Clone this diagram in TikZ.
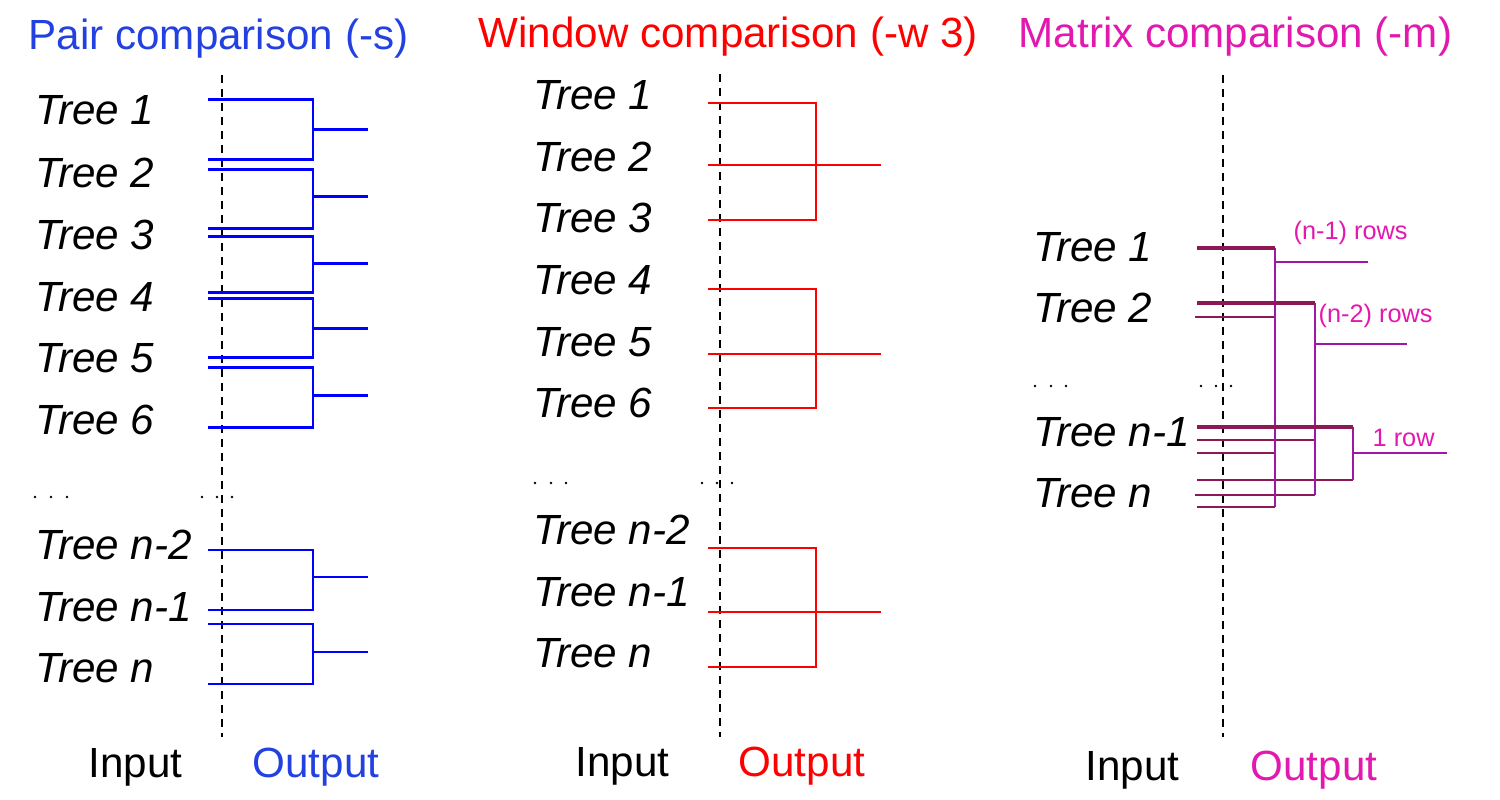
\documentclass[tikz,border=0pt]{standalone}
\usepackage{fontspec}
\setmainfont{Liberation Sans}
\usetikzlibrary{positioning}

\definecolor{pairblue}{RGB}{0,0,255}
\definecolor{pairtext}{RGB}{35,65,225}
\definecolor{winred}{RGB}{255,0,0}
\definecolor{matpink}{RGB}{225,25,175}
\definecolor{matpurple}{RGB}{155,25,165}
\definecolor{matmaroon}{RGB}{140,25,85}

\begin{document}
\begin{tikzpicture}[x=0.1mm, y=-0.1mm, line join=miter,
        tree/.style={anchor=base west, inner sep=0pt, font=\fontsize{12}{14}\selectfont\itshape},
        heading/.style={anchor=base west, inner sep=0pt, font=\fontsize{12}{14}\selectfont},
        rowlabel/.style={anchor=base west, inner sep=0pt, text=matpink, font=\fontsize{7.2}{8}\selectfont},
        divider/.style={line width=0.7pt, dash pattern=on 0.8mm off 0.6mm},
        pairline/.style={pairblue, line width=0.85pt},
        winline/.style={winred, line width=0.75pt},
        feedthick/.style={matmaroon, line width=1.3pt},
        feedthin/.style={matmaroon, line width=0.75pt},
        joinline/.style={matpurple, line width=0.8pt}]
    \useasboundingbox (0,0) rectangle (1500,800);

    % pair comparison
    \node[heading, text=pairtext] (pairtitle) at (28,50) {Pair comparison (-s)};
    \node[tree] (pt1) at (35,125) {Tree 1};
    \node[tree] (pt2) at (35,188) {Tree 2};
    \node[tree] (pt3) at (35,250) {Tree 3};
    \node[tree] (pt4) at (35,312) {Tree 4};
    \node[tree] (pt5) at (35,373) {Tree 5};
    \node[tree] (pt6) at (35,435) {Tree 6};
    \node[tree] (ptn2) at (35,560) {Tree n-2};
    \node[tree] (ptn1) at (35,622) {Tree n-1};
    \node[tree] (ptn) at (35,683) {Tree n};
    \node[heading] (pairin) at (88,778) {Input};
    \node[heading, text=pairtext] (pairout) at (252,778) {Output};
    \draw[divider] (222,75) -- (222,737);
    \foreach \x in {35,51,67,202,217,232}
        \fill (\x,497) circle (1.3);
    \foreach \t/\b/\m in {100/160/130, 170/229/197, 237/293/264, 299/358/329,
                          368/428/396, 550/610/577, 624/684/652}
        \draw[pairline] (208,\t) -| (313,\b) -- (208,\b) (313,\m) -- (368,\m);

    % window comparison
    \node[heading, text=winred] (wintitle) at (478,48) {Window comparison (-w 3)};
    \node[tree] (wt1) at (533,110) {Tree 1};
    \node[tree] (wt2) at (533,172) {Tree 2};
    \node[tree] (wt3) at (533,233) {Tree 3};
    \node[tree] (wt4) at (533,295) {Tree 4};
    \node[tree] (wt5) at (533,357) {Tree 5};
    \node[tree] (wt6) at (533,418) {Tree 6};
    \node[tree] (wtn2) at (533,545) {Tree n-2};
    \node[tree] (wtn1) at (533,607) {Tree n-1};
    \node[tree] (wtn) at (533,668) {Tree n};
    \node[heading] (winin) at (575,777) {Input};
    \node[heading, text=winred] (winout) at (738,777) {Output};
    \draw[divider] (720,74) -- (720,737);
    \foreach \x in {535,551,566,702,717,732}
        \fill (\x,483) circle (1.3);
    \foreach \t/\m/\b in {103/165/220, 289/354/408, 548/612/667}
        \draw[winline] (708,\t) -| (816,\b) -- (708,\b) (708,\m) -- (881,\m);

    % matrix comparison
    \node[heading, text=matpink] (mattitle) at (1018,48) {Matrix comparison (-m)};
    \node[tree] (mt1) at (1033,262) {Tree 1};
    \node[tree] (mt2) at (1033,323) {Tree 2};
    \node[tree] (mtn1) at (1033,447) {Tree n-1};
    \node[tree] (mtn) at (1033,508) {Tree n};
    \node[heading] (matin) at (1085,780) {Input};
    \node[heading, text=matpink] (matout) at (1250,780) {Output};
    \draw[divider] (1223,75) -- (1223,737);
    \foreach \x in {1035,1051,1066,1201,1216,1231}
        \fill (\x,386) circle (1.3);

    \draw[feedthin] (1195,317) -- (1275,317);
    \draw[feedthin] (1197,440) -- (1315,440);
    \draw[feedthin] (1197,453) -- (1275,453);
    \draw[feedthin] (1197,480) -- (1353,480);
    \draw[feedthin] (1195,495) -- (1315,495);
    \draw[feedthin] (1197,507) -- (1275,507);
    \draw[joinline] (1275,248) -- (1275,507) (1275,262) -- (1368,262);
    \draw[joinline] (1315,303) -- (1315,495) (1315,344) -- (1407,344);
    \draw[joinline] (1353,427) -- (1353,480) (1353,453) -- (1447,453);
    \draw[feedthick] (1197,248) -- (1275,248);
    \draw[feedthick] (1197,303) -- (1315,303);
    \draw[feedthick] (1197,427) -- (1353,427);
    \node[rowlabel] (rows1) at (1293,240) {(n-1) rows};
    \node[rowlabel] (rows2) at (1318,323) {(n-2) rows};
    \node[rowlabel] (rows3) at (1372,447) {1 row};
\end{tikzpicture}
\end{document}
